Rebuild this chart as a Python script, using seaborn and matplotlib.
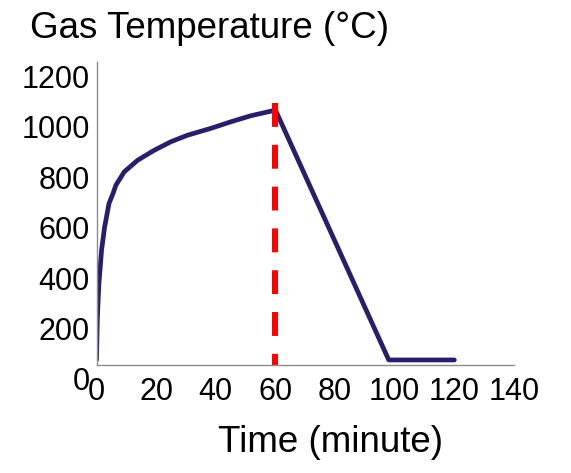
import matplotlib
matplotlib.use("Agg")
import matplotlib.pyplot as plt
import matplotlib.transforms as mtransforms
import pandas as pd
import seaborn as sns

# values
time_min = [0, 0.3, 0.8, 1.7, 2.7, 4.2, 5.4, 6.5, 9.3, 13.8, 19.3, 24.9,
            30.5, 38.3, 45, 51.7, 58.4, 60, 98, 120]
gas_temp = [20, 190, 320, 455, 545, 640, 675, 712, 765, 811, 850, 884,
            910, 937, 963, 987, 1005, 1010, 20, 20]
cutoff_time = [60, 60]
cutoff_temp = [1038, 0]
x_ticks = [0, 20, 40, 60, 80, 100, 120, 140]
y_ticks = [0, 200, 400, 600, 800, 1000, 1200]

sns.set_style("white")
plt.rcParams['font.family'] = ['Liberation Sans', 'DejaVu Sans']
plt.rcParams['text.color'] = 'black'

df = pd.DataFrame({"time": time_min, "temp": gas_temp})

fig = plt.figure(figsize=(5.71, 4.73), dpi=100)
ax = fig.add_axes([96.5 / 571, 1 - 365 / 473, 417.5 / 571, 303 / 473])

sns.lineplot(data=df, x="time", y="temp", ax=ax, color="#291d6c",
             linewidth=3.4, estimator=None, sort=False,
             solid_capstyle="round", solid_joinstyle="round")
ax.plot(cutoff_time, cutoff_temp, color="#ff0000", linewidth=4.3,
        linestyle=(0, (4, 3)))

ax.set_xlim(0, 140)
ax.set_ylim(0, 1200)
ax.set_xticks(x_ticks)
ax.set_yticks(y_ticks)
ax.set_xlabel("")
ax.set_ylabel("")

for side in ["top", "right"]:
    ax.spines[side].set_visible(False)
for side in ["left", "bottom"]:
    ax.spines[side].set_color("#8c8c8c")
    ax.spines[side].set_linewidth(1.0)

ax.tick_params(axis="both", direction="out", length=3, width=0.8,
               color="#b0b0b0", labelsize=22, labelcolor="black")
ax.tick_params(axis="x", pad=6)
ax.tick_params(axis="y", pad=2)

# y tick labels sit a bit lower than their ticks in the original
shift = mtransforms.ScaledTranslation(0, -14 / 100, fig.dpi_scale_trans)
for lab in ax.get_yticklabels():
    lab.set_transform(lab.get_transform() + shift)

fig.text(30 / 571, 1 - 28 / 473, "Gas Temperature (°C)", fontsize=26.5,
         ha="left", va="center", color="black")
fig.text(330 / 571, 1 - 443 / 473, "Time (minute)", fontsize=26.5,
         ha="center", va="center", color="black")

fig.savefig("out.png", dpi=100)
